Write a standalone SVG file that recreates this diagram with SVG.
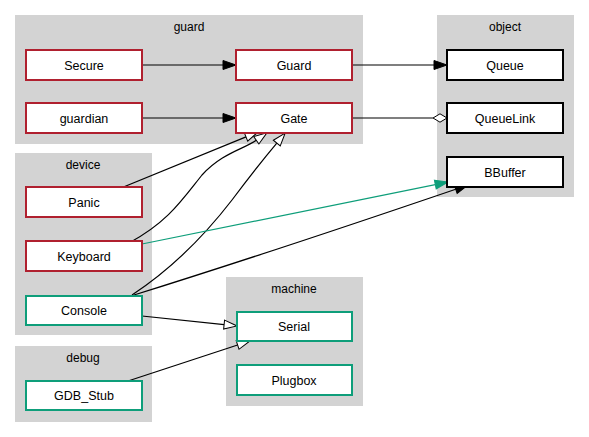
<svg xmlns="http://www.w3.org/2000/svg" width="589" height="437" viewBox="0 0 589 437">
<style>
.cl{fill:#d3d3d3;stroke:none}
.ct{font-family:"Liberation Sans",Arial,sans-serif;font-size:12px;fill:#000;text-anchor:middle}
.n rect{fill:#fff;stroke-width:2}
.n text{font-family:"Liberation Sans",Arial,sans-serif;font-size:12.5px;fill:#000;text-anchor:middle}
.r rect{stroke:#b0202f}
.g rect{stroke:#0e9e7a}
.b rect{stroke:#000}
.e path{fill:none;stroke:#000;stroke-width:1.2}
</style>
<defs>
<marker id="fa" markerUnits="userSpaceOnUse" markerWidth="16" markerHeight="12" refX="0" refY="6" orient="auto" overflow="visible"><path d="M0,1.5 L13,6 L0,10.5 Z" fill="#000" stroke="#000" stroke-width="1"/></marker>
<marker id="fg" markerUnits="userSpaceOnUse" markerWidth="16" markerHeight="12" refX="0" refY="6" orient="auto" overflow="visible"><path d="M0,1.5 L13,6 L0,10.5 Z" fill="#0e9e7a" stroke="#0e9e7a" stroke-width="1"/></marker>
<marker id="oe" markerUnits="userSpaceOnUse" markerWidth="16" markerHeight="12" refX="0" refY="6" orient="auto" overflow="visible"><path d="M0,1.5 L13,6 L0,10.5 Z" fill="#fff" stroke="#000" stroke-width="1"/></marker>
<marker id="od" markerUnits="userSpaceOnUse" markerWidth="16" markerHeight="12" refX="0" refY="6" orient="auto" overflow="visible"><path d="M0,6 L7,1.8 L14,6 L7,10.2 Z" fill="#fff" stroke="#000" stroke-width="1"/></marker>
</defs>
<rect width="589" height="437" fill="#fff"/>
<g id="cluster_guard"><rect class="cl" x="15" y="15" width="348" height="129"/><text class="ct" x="189" y="31">guard</text></g>
<g id="cluster_object"><rect class="cl" x="437" y="15" width="137" height="182"/><text class="ct" x="505" y="31">object</text></g>
<g id="cluster_device"><rect class="cl" x="15" y="153" width="137" height="182"/><text class="ct" x="83" y="169">device</text></g>
<g id="cluster_debug"><rect class="cl" x="15" y="346" width="137" height="76"/><text class="ct" x="83" y="362">debug</text></g>
<g id="cluster_machine"><rect class="cl" x="226" y="277" width="137" height="129"/><text class="ct" x="294" y="293">machine</text></g>

<g id="edges" class="e">
<path d="M142,65 L223,65" marker-end="url(#fa)"/>
<path d="M142,118 L223,118" marker-end="url(#fa)"/>
<path d="M352,65 L434,65" marker-end="url(#fa)"/>
<path d="M352,118 L433,118" marker-end="url(#od)"/>
<path d="M121,188 L246,136.9" marker-end="url(#oe)"/>
<path d="M129,243 C168,222 182,200 202,175 C222,153 244,149 256.3,140.3" marker-end="url(#oe)"/>
<path d="M132,295 C170,270 205,235 232,200 C250,176 266,156 276.8,143.1" marker-end="url(#oe)"/>
<path d="M142,244 L435.3,184.6" style="stroke:#0e9e7a" marker-end="url(#fg)"/>
<path d="M134,295 C240,262 380,215 455.7,189.2" marker-end="url(#fa)"/>
<path d="M142,316 L224.1,324.6" marker-end="url(#oe)"/>
<path d="M128,381 L237.6,345" marker-end="url(#oe)"/>
</g>

<g id="Secure" class="n r"><rect x="26" y="50" width="116" height="30"/><text x="84" y="69.5">Secure</text></g>
<g id="Guard" class="n r"><rect x="236" y="50" width="116" height="30"/><text x="294" y="69.5">Guard</text></g>
<g id="guardian" class="n r"><rect x="26" y="103" width="116" height="30"/><text x="84" y="122.5">guardian</text></g>
<g id="Gate" class="n r"><rect x="236" y="103" width="116" height="30"/><text x="294" y="122.5">Gate</text></g>
<g id="Queue" class="n b"><rect x="447" y="50" width="116" height="30"/><text x="505" y="69.5">Queue</text></g>
<g id="QueueLink" class="n b"><rect x="447" y="103" width="116" height="30"/><text x="505" y="122.5">QueueLink</text></g>
<g id="BBuffer" class="n b"><rect x="447" y="157" width="116" height="30"/><text x="505" y="176.5">BBuffer</text></g>
<g id="Panic" class="n r"><rect x="26" y="187" width="116" height="30"/><text x="84" y="206.5">Panic</text></g>
<g id="Keyboard" class="n r"><rect x="26" y="241" width="116" height="30"/><text x="84" y="260.5">Keyboard</text></g>
<g id="Console" class="n g"><rect x="26" y="296" width="116" height="29"/><text x="84" y="315">Console</text></g>
<g id="GDB_Stub" class="n g"><rect x="26" y="381" width="116" height="29"/><text x="84" y="400">GDB_Stub</text></g>
<g id="Serial" class="n g"><rect x="237" y="312" width="115" height="29"/><text x="294" y="331">Serial</text></g>
<g id="Plugbox" class="n g"><rect x="237" y="365" width="115" height="30"/><text x="294" y="384.5">Plugbox</text></g>
</svg>
